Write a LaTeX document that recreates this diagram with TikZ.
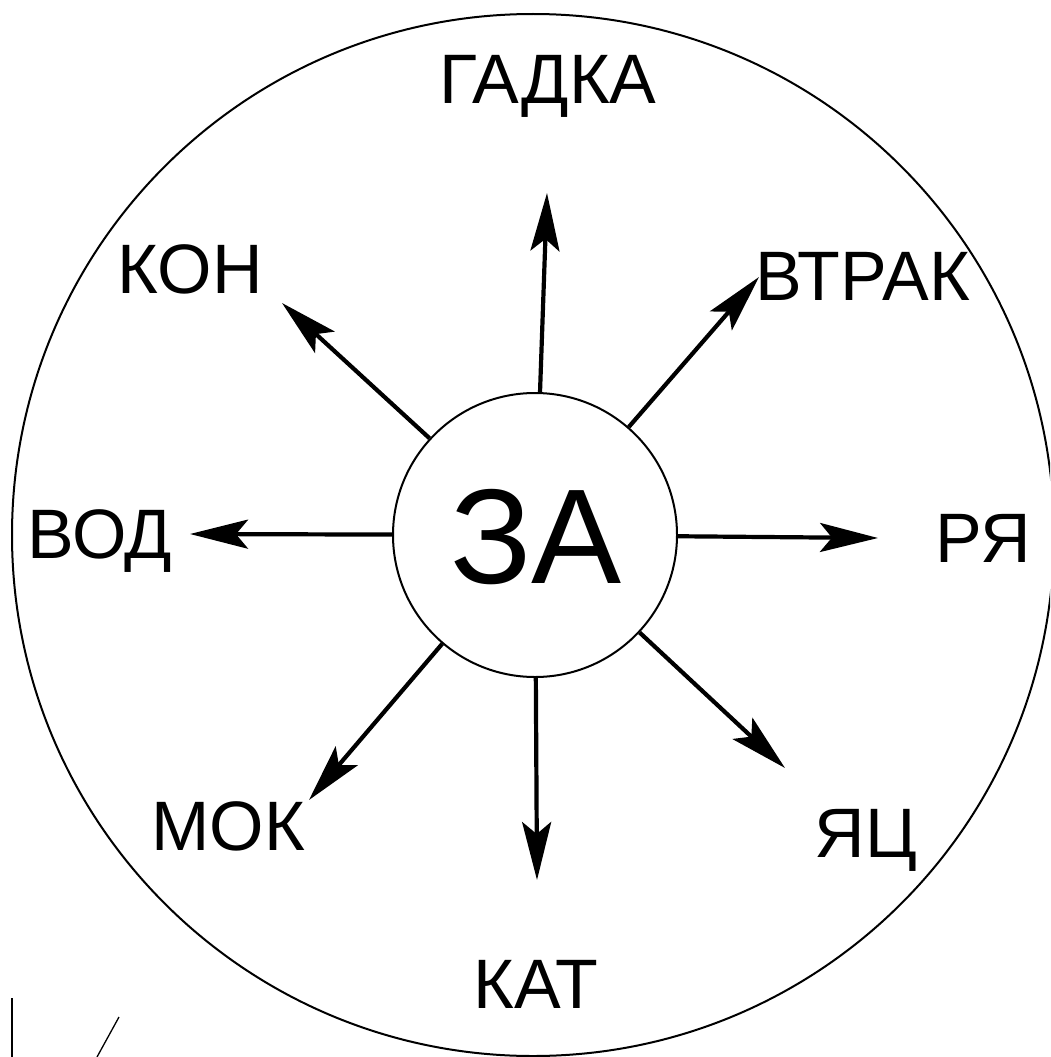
\documentclass[tikz,border=0pt]{standalone}
\usepackage{fontspec}
\setmainfont{Liberation Sans}
\usetikzlibrary{arrows.meta}
\tikzset{
  lbl/.style={inner sep=0pt, anchor=base, font=\fontsize{70}{84}\selectfont},
  arr/.style={line width=4.2pt, -{Stealth[length=58pt, width=29pt, inset=12pt]}},
  ring/.style={line width=2pt},
}
\begin{document}
\begin{tikzpicture}[x=1pt, y=-1pt]
\useasboundingbox (0,0) rectangle (1050,1057);
\clip (0,0) rectangle (1050,1057);
\fill[white] (0,0) rectangle (1050,1057);
% outer ring
\draw[ring] (533,535) circle[radius=521];
% centre
\node[draw, ring, circle, minimum size=284pt, inner sep=0pt] (za) at (535,535) {};
\node[inner sep=0pt, anchor=base, font=\fontsize{135}{150}\selectfont] (zat) at (536,583) {ЗА};
% labels
\node[lbl] (gadka) at (548,103) {ГАДКА};
\node[lbl] (kon) at (190,293) {КОН};
\node[lbl] (vtrak) at (863,300) {ВТРАК};
\node[lbl] (vod) at (100,558) {ВОД};
\node[lbl] (rya) at (983,562) {РЯ};
\node[lbl] (mok) at (228,850) {МОК};
\node[lbl] (yac) at (866,857) {ЯЦ};
\node[lbl] (kat) at (536,1008) {КАТ};
% arrow tips
\coordinate (tG) at (547,193);
\coordinate (tKON) at (282,303);
\coordinate (tV) at (759,277);
\coordinate (tVOD) at (190,534);
\coordinate (tR) at (878,538);
\coordinate (tM) at (309,800);
\coordinate (tY) at (785,768);
\coordinate (tK) at (537,880);
\draw[arr] (za) -- (tG);
\draw[arr] (za) -- (tKON);
\draw[arr] (za) -- (tV);
\draw[arr] (za) -- (tVOD);
\draw[arr] (za) -- (tR);
\draw[arr] (za) -- (tM);
\draw[arr] (za) -- (tY);
\draw[arr] (za) -- (tK);
% stray marks
\coordinate (s1) at (12,998);
\coordinate (s2) at (12,1057);
\coordinate (s3) at (119,1017);
\coordinate (s4) at (97,1057);
\draw[line width=1.3pt] (s1) -- (s2);
\draw[line width=1.3pt] (s3) -- (s4);
\end{tikzpicture}
\end{document}
